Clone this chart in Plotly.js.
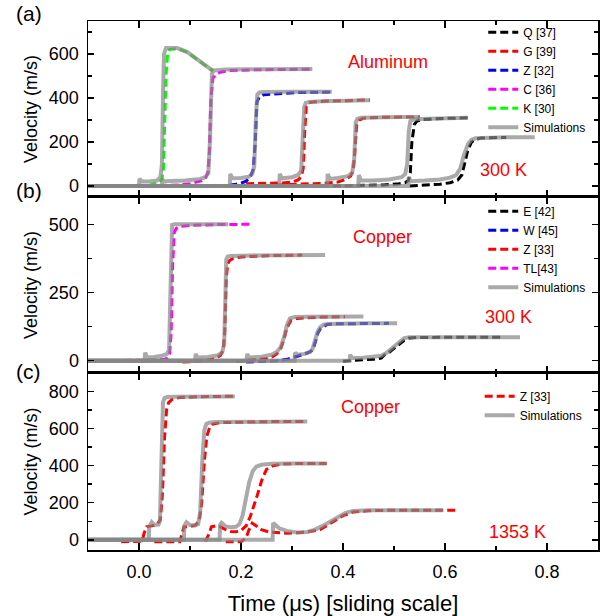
<!DOCTYPE html>
<html>
<head>
<meta charset="utf-8">
<script src="https://cdn.plot.ly/plotly-3.0.1.min.js"></script>
<style>html,body{margin:0;padding:0;background:#fff;}#chart{width:605px;height:616px;}</style>
</head>
<body>
<div id="chart"></div>
<script>
// ---------- Panel (a): Aluminum, 300 K ----------
const a_Q1_t = [0.38, 0.43, 0.48, 0.51, 0.522, 0.528, 0.532, 0.535, 0.54, 0.545, 0.555, 0.58, 0.61, 0.645];
const a_Q1_v = [0, 2, 5, 10, 15, 25, 60, 200, 280, 295, 302, 306, 309, 310];
const a_Q2_t = [0.531, 0.56, 0.59, 0.61, 0.625, 0.633, 0.64, 0.645, 0.652, 0.66, 0.67, 0.69, 0.72];
const a_Q2_v = [0, 3, 8, 15, 27, 50, 110, 165, 200, 212, 218, 220, 221];
const a_G1_t = [0.21, 0.25, 0.28, 0.30, 0.312, 0.318, 0.322, 0.325, 0.328, 0.333, 0.34, 0.36, 0.40, 0.453];
const a_G1_v = [10, 12, 14, 18, 28, 42, 80, 250, 360, 378, 382, 385, 389, 391];
const a_G2_t = [0.27, 0.32, 0.36, 0.39, 0.405, 0.415, 0.42, 0.423, 0.427, 0.432, 0.44, 0.47, 0.51, 0.551];
const a_G2_v = [5, 8, 12, 18, 30, 45, 70, 150, 280, 300, 308, 312, 314, 314];
const a_Z_t = [0.13, 0.165, 0.175, 0.19, 0.2, 0.21, 0.218, 0.224, 0.228, 0.231, 0.236, 0.245, 0.27, 0.31, 0.378];
const a_Z_v = [0, 0, 3, 8, 13, 22, 40, 75, 200, 380, 405, 415, 420, 425, 427];
const a_C_t = [0.015, 0.05, 0.08, 0.1, 0.115, 0.125, 0.13, 0.135, 0.138, 0.141, 0.145, 0.15, 0.16, 0.18, 0.22, 0.28, 0.34];
const a_C_v = [0, 2, 5, 10, 18, 25, 35, 60, 150, 400, 490, 505, 518, 525, 528, 530, 531];
const a_K_t = [-0.005, 0.02, 0.03, 0.04, 0.045, 0.048, 0.05, 0.053, 0.056, 0.06, 0.075, 0.095, 0.12, 0.145];
const a_K_v = [0, 3, 10, 18, 30, 80, 250, 500, 600, 620, 625, 607, 565, 523];

const a_simK_t = [-0.1, 0.0, 0.001, 0.006, 0.02, 0.035, 0.042, 0.045, 0.047, 0.049, 0.053, 0.065, 0.075, 0.094, 0.12, 0.145];
const a_simK_v = [0, 0, 33, 20, 20, 25, 40, 100, 400, 600, 627, 628, 627, 610, 565, 523];
const a_simC_t = [-0.1, 0.045, 0.046, 0.05, 0.09, 0.12, 0.13, 0.136, 0.139, 0.141, 0.143, 0.147, 0.17, 0.25, 0.34];
const a_simC_v = [0, 0, 30, 22, 25, 32, 40, 60, 200, 480, 510, 525, 529, 531, 532];
const a_simZ_t = [-0.1, 0.178, 0.179, 0.183, 0.2, 0.215, 0.222, 0.226, 0.229, 0.232, 0.236, 0.245, 0.3, 0.378];
const a_simZ_v = [0, 0, 55, 35, 36, 42, 55, 90, 300, 415, 425, 427, 428, 428];
const a_simG1_t = [-0.1, 0.275, 0.276, 0.28, 0.30, 0.312, 0.318, 0.321, 0.324, 0.327, 0.333, 0.36, 0.40, 0.453];
const a_simG1_v = [0, 0, 55, 35, 40, 50, 70, 200, 360, 378, 382, 385, 389, 390];
const a_simG2_t = [-0.1, 0.369, 0.37, 0.374, 0.39, 0.41, 0.418, 0.422, 0.425, 0.428, 0.435, 0.47, 0.51, 0.551];
const a_simG2_v = [0, 0, 55, 32, 36, 45, 60, 120, 290, 305, 310, 313, 314, 314];
const a_simQ1_t = [-0.1, 0.43, 0.431, 0.435, 0.46, 0.49, 0.515, 0.522, 0.526, 0.529, 0.532, 0.538, 0.55, 0.6, 0.645];
const a_simQ1_v = [0, 0, 50, 25, 25, 30, 40, 55, 100, 250, 295, 302, 305, 309, 310];
const a_simQ2_t = [-0.1, 0.528, 0.529, 0.533, 0.56, 0.59, 0.61, 0.622, 0.63, 0.637, 0.645, 0.652, 0.66, 0.68, 0.72, 0.776];
const a_simQ2_v = [0, 0, 40, 22, 25, 30, 38, 50, 80, 140, 190, 210, 217, 220, 222, 222];

// ---------- Panel (b): Copper, 300 K ----------
const b_E_t = [0.40, 0.42, 0.44, 0.46, 0.475, 0.482, 0.49, 0.50, 0.51, 0.52, 0.53, 0.545, 0.6, 0.65, 0.71];
const b_E_v = [-2, 2, 4, 5, 10, 22, 30, 45, 60, 75, 83, 85, 86, 86, 86];
const b_W_t = [0.21, 0.24, 0.27, 0.29, 0.31, 0.325, 0.335, 0.341, 0.346, 0.351, 0.356, 0.361, 0.368, 0.38, 0.41, 0.45, 0.49];
const b_W_v = [-5, -3, 0, 5, 15, 25, 32, 40, 70, 103, 118, 125, 132, 135, 136, 137, 137];
const b_Z1_t = [0.085, 0.11, 0.135, 0.15, 0.16, 0.165, 0.168, 0.171, 0.174, 0.178, 0.185, 0.2, 0.25, 0.32];
const b_Z1_v = [-5, -3, 2, 8, 20, 40, 100, 300, 355, 368, 375, 380, 385, 387];
const b_Z2_t = [0.19, 0.23, 0.25, 0.262, 0.27, 0.277, 0.283, 0.29, 0.298, 0.31, 0.33, 0.36, 0.404];
const b_Z2_v = [-3, 3, 8, 15, 25, 40, 70, 120, 148, 155, 158, 160, 161];
const b_TL_t = [-0.1, 0.0, 0.03, 0.05, 0.055, 0.06, 0.063, 0.066, 0.069, 0.073, 0.08, 0.1, 0.15, 0.222];
const b_TL_v = [0, 0, 2, 5, 10, 25, 100, 350, 470, 485, 492, 496, 499, 500];

const b_simTL_t = [-0.1, 0.011, 0.012, 0.016, 0.03, 0.045, 0.055, 0.059, 0.061, 0.063, 0.065, 0.07, 0.1, 0.175];
const b_simTL_v = [0, 0, 30, 12, 14, 18, 25, 40, 200, 480, 498, 500, 500, 500];
const b_simZ1_t = [-0.1, 0.11, 0.111, 0.115, 0.135, 0.155, 0.163, 0.167, 0.169, 0.171, 0.174, 0.18, 0.22, 0.3, 0.365];
const b_simZ1_v = [0, 0, 25, 12, 14, 20, 30, 60, 200, 370, 382, 384, 386, 387, 387];
const b_simZ2_t = [-0.1, 0.211, 0.212, 0.216, 0.24, 0.26, 0.27, 0.278, 0.285, 0.29, 0.296, 0.305, 0.33, 0.38, 0.44];
const b_simZ2_v = [0, 0, 25, 12, 15, 22, 32, 50, 90, 130, 155, 160, 161, 162, 162];
const b_simW_t = [-0.1, 0.305, 0.306, 0.31, 0.325, 0.335, 0.34, 0.345, 0.35, 0.355, 0.362, 0.37, 0.4, 0.45, 0.506];
const b_simW_v = [0, 0, 30, 22, 25, 32, 42, 75, 105, 122, 132, 135, 137, 137, 137];
const b_simE_t = [-0.1, 0.413, 0.414, 0.418, 0.44, 0.46, 0.475, 0.485, 0.495, 0.505, 0.513, 0.52, 0.53, 0.6, 0.747];
const b_simE_v = [0, 0, 22, 10, 11, 13, 18, 28, 45, 62, 76, 83, 86, 86, 86];

// ---------- Panel (c): Copper, 1353 K ----------
const c_Z1_t = [-0.035, 0.0, 0.006, 0.01, 0.015, 0.025, 0.035, 0.042, 0.046, 0.05, 0.054, 0.058, 0.065, 0.08, 0.12, 0.19];
const c_Z1_v = [-10, -10, -8, 35, 70, 75, 82, 110, 250, 550, 700, 740, 758, 768, 772, 775];
const c_Z2_t = [0.03, 0.06, 0.08, 0.084, 0.088, 0.1, 0.11, 0.118, 0.123, 0.128, 0.133, 0.139, 0.145, 0.16, 0.2, 0.26, 0.33];
const c_Z2_v = [-10, -10, -10, 30, 70, 72, 78, 100, 200, 420, 560, 610, 625, 632, 636, 638, 638];
const c_Z3_t = [0.13, 0.137, 0.142, 0.15, 0.16, 0.17, 0.18, 0.19, 0.2, 0.21, 0.218, 0.225, 0.231, 0.241, 0.25, 0.263, 0.28, 0.3, 0.368];
const c_Z3_v = [-10, 30, 70, 75, 70, 55, 45, 43, 50, 75, 124, 180, 232, 324, 380, 400, 408, 411, 412];
const c_Z4_t = [0.17, 0.2, 0.21, 0.215, 0.222, 0.23, 0.24, 0.255, 0.27, 0.29, 0.31, 0.33, 0.355, 0.38, 0.40, 0.42, 0.45, 0.5, 0.55, 0.624];
const c_Z4_v = [-10, -10, 10, 50, 90, 75, 55, 42, 38, 35, 38, 42, 55, 95, 130, 150, 157, 160, 160, 160];

const c_sim1_t = [-0.1, 0.019, 0.02, 0.025, 0.03, 0.038, 0.041, 0.043, 0.045, 0.047, 0.05, 0.055, 0.07, 0.12, 0.188];
const c_sim1_v = [0, 0, 70, 95, 80, 82, 100, 400, 600, 740, 765, 770, 772, 773, 773];
const c_sim2_t = [-0.1, 0.088, 0.089, 0.093, 0.1, 0.11, 0.116, 0.12, 0.124, 0.128, 0.132, 0.137, 0.15, 0.2, 0.26, 0.33];
const c_sim2_v = [0, 0, 75, 95, 80, 78, 85, 150, 420, 590, 625, 632, 635, 637, 638, 638];
const c_sim3_t = [-0.1, 0.158, 0.159, 0.162, 0.17, 0.18, 0.19, 0.197, 0.203, 0.21, 0.216, 0.223, 0.23, 0.24, 0.26, 0.3, 0.368];
const c_sim3_v = [0, 0, 80, 92, 72, 68, 70, 85, 130, 230, 310, 370, 395, 405, 410, 412, 412];
const c_sim4_t = [-0.1, 0.262, 0.263, 0.267, 0.275, 0.29, 0.31, 0.33, 0.345, 0.36, 0.375, 0.39, 0.405, 0.42, 0.45, 0.5, 0.596];
const c_sim4_v = [0, 0, 90, 80, 62, 48, 40, 42, 55, 75, 100, 125, 145, 155, 160, 160, 160];

// ---------- styling ----------
const SIM = 'rgba(134,134,134,0.7)';
const DASH = '8px,4px';

function dashed(t, v, color, name, axis, legend, show) {
  return {x: t, y: v, type: 'scatter', mode: 'lines', name: name, legendgroup: legend + name,
    showlegend: show, legend: legend, xaxis: 'x' + axis, yaxis: 'y' + axis,
    line: {color: color, width: 3, dash: DASH}, hoverinfo: 'skip'};
}
function sim(t, v, axis, legend, show) {
  return {x: t, y: v, type: 'scatter', mode: 'lines', name: 'Simulations', legendgroup: legend + 'sim',
    showlegend: show, legend: legend, xaxis: 'x' + axis, yaxis: 'y' + axis,
    line: {color: SIM, width: 4}, hoverinfo: 'skip'};
}

const traces = [
  dashed(a_Q1_t, a_Q1_v, '#000000', 'Q [37]', '', 'legend', true),
  dashed(a_Q2_t, a_Q2_v, '#000000', 'Q [37]', '', 'legend', false),
  dashed(a_G1_t, a_G1_v, '#ff0000', 'G [39]', '', 'legend', true),
  dashed(a_G2_t, a_G2_v, '#ff0000', 'G [39]', '', 'legend', false),
  dashed(a_Z_t, a_Z_v, '#0000ff', 'Z [32]', '', 'legend', true),
  dashed(a_C_t, a_C_v, '#ff00ff', 'C [36]', '', 'legend', true),
  dashed(a_K_t, a_K_v, '#00ff00', 'K [30]', '', 'legend', true),
  sim(a_simK_t, a_simK_v, '', 'legend', true),
  sim(a_simC_t, a_simC_v, '', 'legend', false),
  sim(a_simZ_t, a_simZ_v, '', 'legend', false),
  sim(a_simG1_t, a_simG1_v, '', 'legend', false),
  sim(a_simG2_t, a_simG2_v, '', 'legend', false),
  sim(a_simQ1_t, a_simQ1_v, '', 'legend', false),
  sim(a_simQ2_t, a_simQ2_v, '', 'legend', false),

  dashed(b_E_t, b_E_v, '#000000', 'E [42]', '2', 'legend2', true),
  dashed(b_W_t, b_W_v, '#0000ff', 'W [45]', '2', 'legend2', true),
  dashed(b_Z1_t, b_Z1_v, '#ff0000', 'Z [33]', '2', 'legend2', true),
  dashed(b_Z2_t, b_Z2_v, '#ff0000', 'Z [33]', '2', 'legend2', false),
  dashed(b_TL_t, b_TL_v, '#ff00ff', 'TL[43]', '2', 'legend2', true),
  sim(b_simTL_t, b_simTL_v, '2', 'legend2', true),
  sim(b_simZ1_t, b_simZ1_v, '2', 'legend2', false),
  sim(b_simZ2_t, b_simZ2_v, '2', 'legend2', false),
  sim(b_simW_t, b_simW_v, '2', 'legend2', false),
  sim(b_simE_t, b_simE_v, '2', 'legend2', false),

  dashed(c_Z1_t, c_Z1_v, '#ff0000', 'Z [33]', '3', 'legend3', true),
  dashed(c_Z2_t, c_Z2_v, '#ff0000', 'Z [33]', '3', 'legend3', false),
  dashed(c_Z3_t, c_Z3_v, '#ff0000', 'Z [33]', '3', 'legend3', false),
  dashed(c_Z4_t, c_Z4_v, '#ff0000', 'Z [33]', '3', 'legend3', false),
  sim(c_sim1_t, c_sim1_v, '3', 'legend3', true),
  sim(c_sim2_t, c_sim2_v, '3', 'legend3', false),
  sim(c_sim3_t, c_sim3_v, '3', 'legend3', false),
  sim(c_sim4_t, c_sim4_v, '3', 'legend3', false)
];

const FONT = 'Liberation Sans, Arial, Helvetica, sans-serif';
function xax(anchor, labels) {
  return {anchor: anchor, range: [-0.1, 0.9], tick0: 0, dtick: 0.2, tickformat: '.1f',
    ticks: 'inside', ticklen: 7, tickwidth: 1.5, tickcolor: '#000', ticklabelstandoff: 5,
    minor: {tick0: 0, dtick: 0.1, ticks: 'inside', ticklen: 4, tickwidth: 1.5, tickcolor: '#000', showgrid: false},
    showline: true, linecolor: '#000', linewidth: 1.5, mirror: 'ticks',
    showgrid: false, zeroline: false, showticklabels: labels,
    tickfont: {size: 18, family: FONT, color: '#000'}, fixedrange: true};
}
function yax(domain, range, dtick, minor) {
  return {domain: domain, range: range, tick0: 0, dtick: dtick,
    ticks: 'inside', ticklen: 6, tickwidth: 1.5, tickcolor: '#000', ticklabelstandoff: 4,
    minor: {tick0: 0, dtick: minor, ticks: 'inside', ticklen: 4, tickwidth: 1.5, tickcolor: '#000', showgrid: false},
    showline: true, linecolor: '#000', linewidth: 1.5, mirror: 'ticks',
    showgrid: false, zeroline: false,
    tickfont: {size: 18, family: FONT, color: '#000'},
    title: {text: 'Velocity (m/s)', font: {size: 18, family: FONT, color: '#000'}, standoff: 6},
    fixedrange: true};
}
function leg(x, y) {
  return {x: x, y: y, xanchor: 'left', yanchor: 'top', bgcolor: 'rgba(0,0,0,0)', borderwidth: 0,
    font: {size: 12, family: FONT, color: '#000'}, traceorder: 'normal'};
}
function ann(text, x, y, xref, yref, size, color) {
  return {text: text, x: x, y: y, xref: xref, yref: yref, showarrow: false,
    xanchor: 'center', yanchor: 'middle', font: {size: size, family: FONT, color: color}};
}

const layout = {
  width: 605, height: 616,
  margin: {l: 88, r: 7, t: 21, b: 66, pad: 0},
  paper_bgcolor: '#fff', plot_bgcolor: '#fff',
  font: {family: FONT, size: 18, color: '#000'},
  showlegend: true,
  xaxis: xax('y', false),
  xaxis2: xax('y2', false),
  xaxis3: Object.assign(xax('y3', true), {title: {text: 'Time (μs) [sliding scale]', font: {size: 22, family: FONT, color: '#000'}, standoff: 14}}),
  yaxis: yax([0.6673, 1], [-50, 750], 200, 100),
  yaxis2: yax([0.3346, 0.6673], [-45, 600], 250, 125),
  yaxis3: yax([0, 0.3346], [-55, 900], 200, 100),
  legend: leg(0.775, 1.006),
  legend2: leg(0.775, 0.668),
  legend3: leg(0.768, 0.318),
  annotations: [
    ann('(a)', -0.116, 1.015, 'paper', 'paper', 21, '#000'),
    ann('(b)', -0.116, 0.679, 'paper', 'paper', 21, '#000'),
    ann('(c)', -0.116, 0.338, 'paper', 'paper', 21, '#000'),
    ann('Aluminum', 0.488, 564, 'x', 'y', 18, '#ff0000'),
    ann('300 K', 0.714, 73, 'x', 'y', 18, '#ff0000'),
    ann('Copper', 0.478, 452, 'x2', 'y2', 18, '#ff0000'),
    ann('300 K', 0.724, 162, 'x2', 'y2', 18, '#ff0000'),
    ann('Copper', 0.453, 714, 'x3', 'y3', 18, '#ff0000'),
    ann('1353 K', 0.743, 43, 'x3', 'y3', 18, '#ff0000')
  ]
};

Plotly.newPlot('chart', traces, layout, {displayModeBar: false, staticPlot: true});
</script>
</body>
</html>
